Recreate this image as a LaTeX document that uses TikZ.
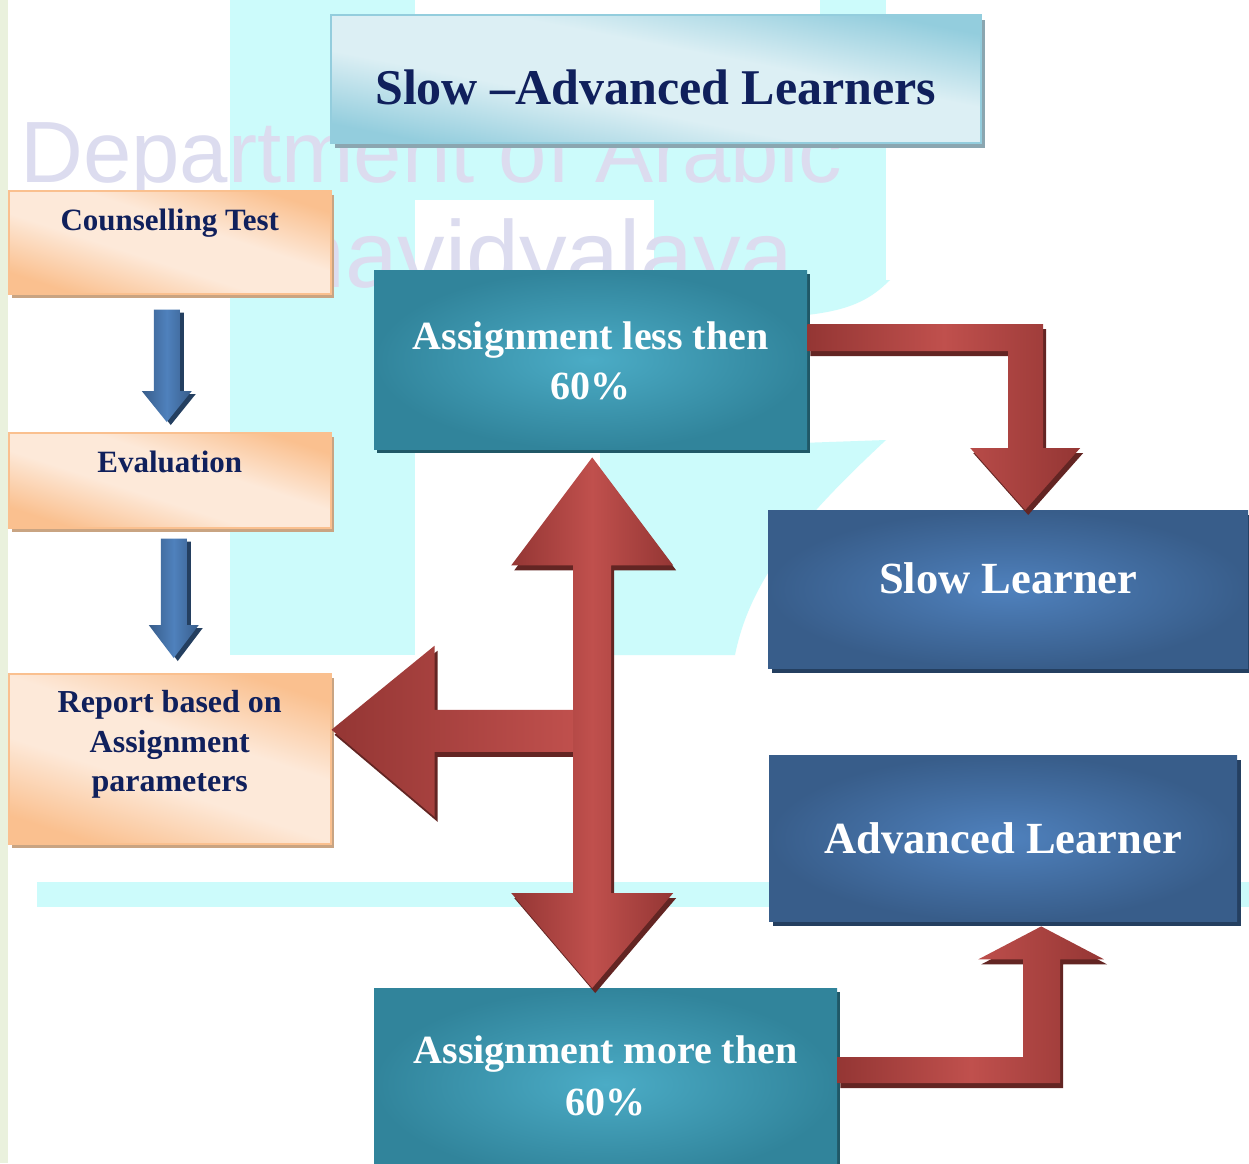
\documentclass[tikz,border=0pt]{standalone}
\usepackage{fontspec}
\setmainfont{Liberation Serif}
\newfontfamily\wmfont{Liberation Sans}
\usetikzlibrary{calc,shadows}
\definecolor{navy}{HTML}{10205C}
\definecolor{peachD}{HTML}{FAC08F}
\definecolor{peachL}{HTML}{FDE9D9}
\definecolor{peachS}{HTML}{C9A482}
\definecolor{skyD}{HTML}{93CDDD}
\definecolor{skyL}{HTML}{DCEFF4}
\definecolor{skyS}{HTML}{8BA6B0}
\definecolor{tealD}{HTML}{31849B}
\definecolor{tealL}{HTML}{4BACC6}
\definecolor{tealS}{HTML}{205867}
\definecolor{blueD}{HTML}{385D8A}
\definecolor{blueL}{HTML}{4F81BD}
\definecolor{blueS}{HTML}{243F60}
\definecolor{redD}{HTML}{943634}
\definecolor{redL}{HTML}{C0504D}
\definecolor{redS}{HTML}{632523}
\definecolor{wmcyan}{HTML}{CCFBFB}
\definecolor{wmtext}{HTML}{DCDCEF}
\definecolor{strip}{HTML}{EAF1DD}
\pgfdeclareverticalshading{peachdiag}{100bp}{color(0bp)=(peachD); color(25bp)=(peachD); color(43bp)=(peachL); color(57bp)=(peachL); color(75bp)=(peachD); color(100bp)=(peachD)}
\pgfdeclareverticalshading{skydiag}{100bp}{color(0bp)=(skyD); color(25bp)=(skyD); color(42bp)=(skyL); color(58bp)=(skyL); color(75bp)=(skyD); color(100bp)=(skyD)}
\newcommand{\boxlines}[1]{\begin{tabular}[t]{@{}c@{}}#1\end{tabular}}
\begin{document}
\begin{tikzpicture}
		[x=1pt, y=-1pt,
		box/.style={rectangle, inner sep=0pt, anchor=north west},
		titlebox/.style={box, draw=skyD, line width=1.5pt, shading=skydiag, shading angle=-11, text=navy, font={\fontsize{50pt}{60pt}\selectfont\bfseries}, drop shadow={shadow xshift=4pt, shadow yshift=-5pt, opacity=1, fill=skyS}},
		peachbox/.style={box, draw=peachD, line width=1.5pt, shading=peachdiag, shading angle=-18, text=navy, minimum width=322pt, font={\fontsize{31pt}{38pt}\selectfont\bfseries}, drop shadow={shadow xshift=3pt, shadow yshift=-4pt, opacity=1, fill=peachS}},
		tealbox/.style={box, inner color=tealL, outer color=tealD, text=white, font={\fontsize{40pt}{50pt}\selectfont\bfseries}, drop shadow={shadow xshift=3pt, shadow yshift=-4pt, opacity=1, fill=tealS}},
		bluebox/.style={box, inner color=blueL, outer color=blueD, text=white, font={\fontsize{44.5pt}{54pt}\selectfont\bfseries}, drop shadow={shadow xshift=4pt, shadow yshift=-5pt, opacity=1, fill=blueS}},
		bluearrow/.style={left color=blueD, right color=blueD, middle color=blueL, drop shadow={shadow xshift=4pt, shadow yshift=-3pt, opacity=1, fill=blueS}},
		redarrow/.style={left color=redD, right color=redD, middle color=redL, drop shadow={shadow xshift=3pt, shadow yshift=-5pt, opacity=1, fill=redS}},
		watermark/.style={font={\wmfont\fontsize{87pt}{87pt}\selectfont}, text=wmtext, inner sep=0pt}]
		\useasboundingbox (0,0) rectangle (1249,1163);
		\fill[white] (0,0) rectangle (1249,1163);
		\fill[strip] (0,0) rectangle (8,1163);
		\fill[wmcyan] (230,0) rectangle (415,655);
		\fill[wmcyan] (415,142) rectangle (886,200);
		\fill[wmcyan] (820,0) rectangle (886,200);
		\fill[wmcyan] (654,200) rectangle (886,280);
		\fill[wmcyan] (807,280) -- (890,280) .. controls (870,300) and (850,310) .. (807,315) -- cycle;
		\fill[wmcyan] (600,450) -- (886,440) .. controls (800,520) and (750,580) .. (735,655) -- (600,655) -- cycle;
		\fill[wmcyan] (37,882) rectangle (1249,907);
		\node[watermark, anchor=base west] (dept) at (20,182) {Department of Arabic};
		\node[watermark, font={\wmfont\fontsize{95pt}{95pt}\selectfont}, anchor=base west] (maha) at (292,287) {havidyalaya};

		\node[titlebox, minimum width=650pt, text height=90pt, text depth=38pt] (title) at (330,14) {Slow –Advanced Learners};
		\node[peachbox, text height=40pt, text depth=63pt] (counsel) at (8,190) {Counselling Test};
		\node[peachbox, text height=40pt, text depth=55pt] (eval) at (8,432) {Evaluation};
		\node[peachbox, font={\fontsize{32pt}{39.5pt}\selectfont\bfseries}, text height=39pt, text depth=131pt] (report) at (8,673) {\boxlines{Report based on\\Assignment\\parameters}};
		\node[tealbox, minimum width=433pt, text height=79pt, text depth=100pt] (less) at (374,270) {\boxlines{Assignment less then\\60\%}};
		\node[tealbox, minimum width=463pt, font={\fontsize{40pt}{52pt}\selectfont\bfseries}, text height=75pt, text depth=117pt] (more) at (374,988) {\boxlines{Assignment more then\\60\%}};
		\node[bluebox, minimum width=480pt, text height=83pt, text depth=75pt] (slow) at (768,510) {Slow Learner};
		\node[bluebox, minimum width=468pt, text height=98pt, text depth=68pt] (adv) at (769,755) {Advanced Learner};

		\coordinate (b1) at ($(counsel.south)+(-3,15)$);
		\coordinate (b2) at ($(b1 |- eval.north)+(0,-10)$);
		\path[bluearrow] ($(b1)+(-13,0)$) -- ($(b1)+(13,0)$) -- ($(b2)+(13,-31)$) -- ($(b2)+(25,-31)$) -- (b2) -- ($(b2)+(-25,-31)$) -- ($(b2)+(-13,-31)$) -- cycle;
		\coordinate (b3) at ($(eval.south)+(4,10)$);
		\coordinate (b4) at ($(b3 |- report.north)+(0,-15)$);
		\path[bluearrow] ($(b3)+(-13,0)$) -- ($(b3)+(13,0)$) -- ($(b4)+(13,-33)$) -- ($(b4)+(25,-33)$) -- (b4) -- ($(b4)+(-25,-33)$) -- ($(b4)+(-13,-33)$) -- cycle;

		\coordinate (t1) at ($(slow.north)+(17,0)$);
		\coordinate (a1) at ($(less.north east)+(0,54)$);
		\path[redarrow] (a1) -- ($(a1 -| t1)+(18,0)$) -- ($(t1)+(18,-62)$) -- ($(t1)+(55,-62)$) -- (t1) -- ($(t1)+(-55,-62)$) -- ($(t1)+(-17,-62)$) -- ($(a1 -| t1)+(-17,27)$) -- ($(a1)+(0,27)$) -- cycle;
		\coordinate (t2) at ($(adv.south)+(38,5)$);
		\coordinate (a2) at ($(more.north east)+(0,69)$);
		\path[redarrow] (a2) -- ($(a2 -| t2)+(-18,0)$) -- ($(t2)+(-18,33)$) -- ($(t2)+(-63,33)$) -- (t2) -- ($(t2)+(63,33)$) -- ($(t2)+(19,33)$) -- ($(a2 -| t2)+(19,26)$) -- ($(a2)+(0,26)$) -- cycle;
		\coordinate (t3) at ($(less.south)+(1.5,8)$);
		\coordinate (t4) at (t3 |- more.north);
		\coordinate (t5) at ($(report.east)+(0,-29)$);
		\path[redarrow, middle color=redL!90!redD, right color=redL] (t5) -- ++(103,-84) -- ++(0,64) -- ($(t5 -| t3)+(-16,-20)$) -- ($(t5 -| t3)+(-16,22)$) -- ($(t5)+(103,22)$) -- ($(t5)+(103,87)$) -- cycle;
		\path[redarrow] (t3) -- ($(t3)+(81,108)$) -- ($(t3)+(19,108)$) -- ($(t4)+(19,-95)$) -- ($(t4)+(81,-95)$) -- (t4) -- ($(t4)+(-81,-95)$) -- ($(t4)+(-19,-95)$) -- ($(t3)+(-19,108)$) -- ($(t3)+(-81,108)$) -- cycle;
	\end{tikzpicture}
\end{document}
